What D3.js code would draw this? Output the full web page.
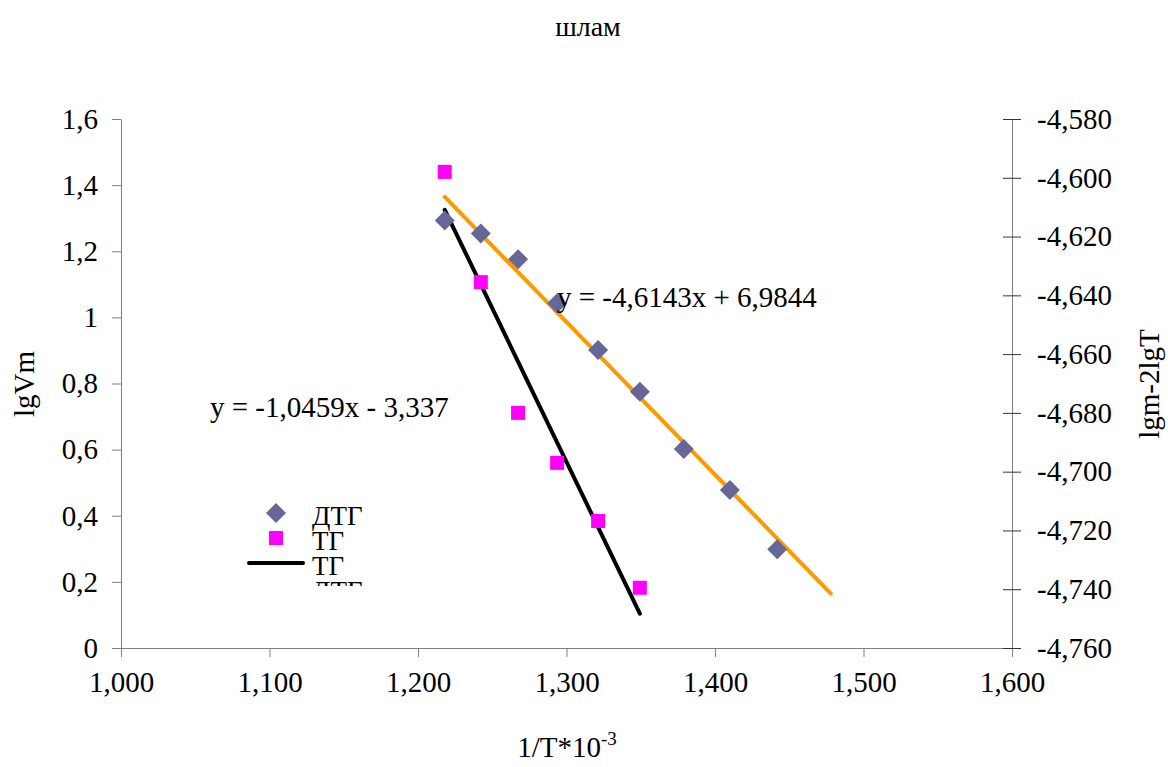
<!DOCTYPE html>
<html>
<head>
<meta charset="utf-8">
<script src="https://cdn.jsdelivr.net/npm/d3@7"></script>
<style>
  body { margin: 0; background: #fff; }
  svg text { font-family: "Liberation Serif", "Times New Roman", serif; fill: #000; }
</style>
</head>
<body>
<div id="chart"></div>
<script>
// data
var dtgX = [1.218, 1.2423, 1.2674, 1.2937, 1.3213, 1.3494, 1.379, 1.41, 1.4419];
var dtgY = [1.293, 1.254, 1.176, 1.043, 0.901, 0.775, 0.602, 0.478, 0.299];
var tgX = [1.218, 1.2423, 1.2674, 1.2937, 1.3213, 1.3494];
var tgY = [-4.598, -4.6355, -4.680, -4.697, -4.7168, -4.7395];

// trend lines: coefficients from the labels, x range as drawn
var dtgTrend = { k: -4.6143, b: 6.9844, x: [1.218, 1.478], label: "y = -4,6143x + 6,9844" };
var tgTrend = { k: -1.0459, b: -3.337, x: [1.218, 1.3494], label: "y = -1,0459x - 3,337" };

var xTicks = [1.0, 1.1, 1.2, 1.3, 1.4, 1.5, 1.6];
var yTicks = [0, 0.2, 0.4, 0.6, 0.8, 1.0, 1.2, 1.4, 1.6];
var y2Ticks = [-4.76, -4.74, -4.72, -4.70, -4.68, -4.66, -4.64, -4.62, -4.60, -4.58];

var legendItems = [
  { name: "ДТГ", type: "diamond" },
  { name: "ТГ", type: "square" },
  { name: "ТГ", type: "line", color: "#000" },
  { name: "ДТГ", type: "line", color: "#FF9900" }
];

var width = 1168, height = 767;
var margin = { top: 119, right: 156, bottom: 119, left: 121 };
var fs = 29;
var serif = "'Liberation Serif', 'Times New Roman', serif";

var svg = d3.select("#chart").append("svg")
  .attr("width", width)
  .attr("height", height);

var x = d3.scaleLinear().domain([1.0, 1.6]).range([margin.left, width - margin.right]);
var y = d3.scaleLinear().domain([0, 1.6]).range([height - margin.bottom, margin.top]);
var y2 = d3.scaleLinear().domain([-4.76, -4.58]).range([height - margin.bottom, margin.top]);

// comma decimals, plain hyphen for minus
var commaFmt = function(n) {
  return function(d) { return d3.format("." + n + "f")(d).replace(".", ",").replace("\u2212", "-"); };
};

function styleAxis(g) {
  g.attr("font-family", serif).attr("font-size", fs);
  g.select(".domain").attr("stroke", "#808080");
  g.selectAll(".tick line").attr("stroke", "#808080");
  g.selectAll("text").style("font-size", fs + "px").style("font-family", serif);
}

// x axis
var xAxis = svg.append("g")
  .attr("transform", "translate(0," + y(0) + ")")
  .call(d3.axisBottom(x).tickValues(xTicks).tickFormat(commaFmt(3)).tickSize(9).tickSizeOuter(0).tickPadding(14));
styleAxis(xAxis);
xAxis.select(".domain").attr("d", "M" + (margin.left - 9) + ",0.5H" + x(1.6));

// left axis
var yAxis = svg.append("g")
  .attr("transform", "translate(" + x(1.0) + ",0)")
  .call(d3.axisLeft(y).tickValues(yTicks)
    .tickFormat(function(d) { return d === 0 || d === 1 ? String(d) : d3.format(".1f")(d).replace(".", ","); })
    .tickSize(9).tickSizeOuter(0).tickPadding(14));
styleAxis(yAxis);

// right axis, ticks crossing
var y2Axis = svg.append("g")
  .attr("transform", "translate(" + x(1.6) + ",0)")
  .call(d3.axisRight(y2).tickValues(y2Ticks).tickFormat(commaFmt(3)).tickSize(9).tickSizeOuter(0).tickPadding(16));
styleAxis(y2Axis);
y2Axis.selectAll(".tick line").attr("stroke", "#333").attr("x1", -9);

// title and axis labels
svg.append("text").attr("x", 588).attr("y", 36).attr("text-anchor", "middle")
  .style("font-size", "28px").text("шлам");

svg.append("text")
  .attr("transform", "translate(34,384) rotate(-90)")
  .attr("text-anchor", "middle").style("font-size", fs + "px").text("lgVm");

svg.append("text")
  .attr("transform", "translate(1159,384) rotate(-90)")
  .attr("text-anchor", "middle").style("font-size", fs + "px").text("lgm-2lgT");

var xt = svg.append("text").attr("x", 567).attr("y", 757).attr("text-anchor", "middle").style("font-size", fs + "px");
xt.append("tspan").text("1/T*10");
xt.append("tspan").attr("dy", -12).style("font-size", "19px").text("-3");

// trend lines
var line = d3.line().x(function(d) { return x(d[0]); });

svg.append("path")
  .datum(dtgTrend.x.map(function(v) { return [v, dtgTrend.k * v + dtgTrend.b]; }))
  .attr("d", line.y(function(d) { return y(d[1]); }))
  .attr("fill", "none").attr("stroke", "#FF9900").attr("stroke-width", 4).attr("stroke-linecap", "round");

svg.append("path")
  .datum(tgTrend.x.map(function(v) { return [v, tgTrend.k * v + tgTrend.b]; }))
  .attr("d", line.y(function(d) { return y2(d[1]); }))
  .attr("fill", "none").attr("stroke", "#000").attr("stroke-width", 4).attr("stroke-linecap", "round");

// points
var diamond = d3.symbol().type(d3.symbolSquare).size(200);
svg.selectAll(".dtg")
  .data(dtgX.map(function(v, i) { return [v, dtgY[i]]; }))
  .enter().append("path")
  .attr("d", diamond)
  .attr("transform", function(d) { return "translate(" + x(d[0]) + "," + y(d[1]) + ") rotate(45)"; })
  .attr("fill", "#666699");

svg.selectAll(".tg")
  .data(tgX.map(function(v, i) { return [v, tgY[i]]; }))
  .enter().append("rect")
  .attr("x", function(d) { return x(d[0]) - 7; })
  .attr("y", function(d) { return y2(d[1]) - 7; })
  .attr("width", 14).attr("height", 14)
  .attr("fill", "#FF00FF");

// equation labels
svg.append("text").attr("x", 557).attr("y", 307).style("font-size", fs + "px").text(dtgTrend.label);
svg.append("text").attr("x", 210).attr("y", 417).style("font-size", fs + "px").text(tgTrend.label);

// legend (clipped at bottom like the original)
svg.append("clipPath").attr("id", "legclip")
  .append("rect").attr("x", 230).attr("y", 495).attr("width", 160).attr("height", 91);

var leg = svg.append("g").attr("clip-path", "url(#legclip)");
legendItems.forEach(function(it, i) {
  var cy = 513 + 25 * i;
  if (it.type === "diamond") {
    leg.append("path").attr("d", diamond).attr("transform", "translate(276," + cy + ") rotate(45)").attr("fill", "#666699");
  } else if (it.type === "square") {
    leg.append("rect").attr("x", 269).attr("y", cy - 7).attr("width", 14).attr("height", 14).attr("fill", "#FF00FF");
  } else {
    leg.append("line").attr("x1", 249).attr("x2", 303).attr("y1", cy).attr("y2", cy)
      .attr("stroke", it.color).attr("stroke-width", 4).attr("stroke-linecap", "round");
  }
  leg.append("text").attr("x", 312).attr("y", cy + 12).style("font-size", "27px").text(it.name);
});
</script>
</body>
</html>
